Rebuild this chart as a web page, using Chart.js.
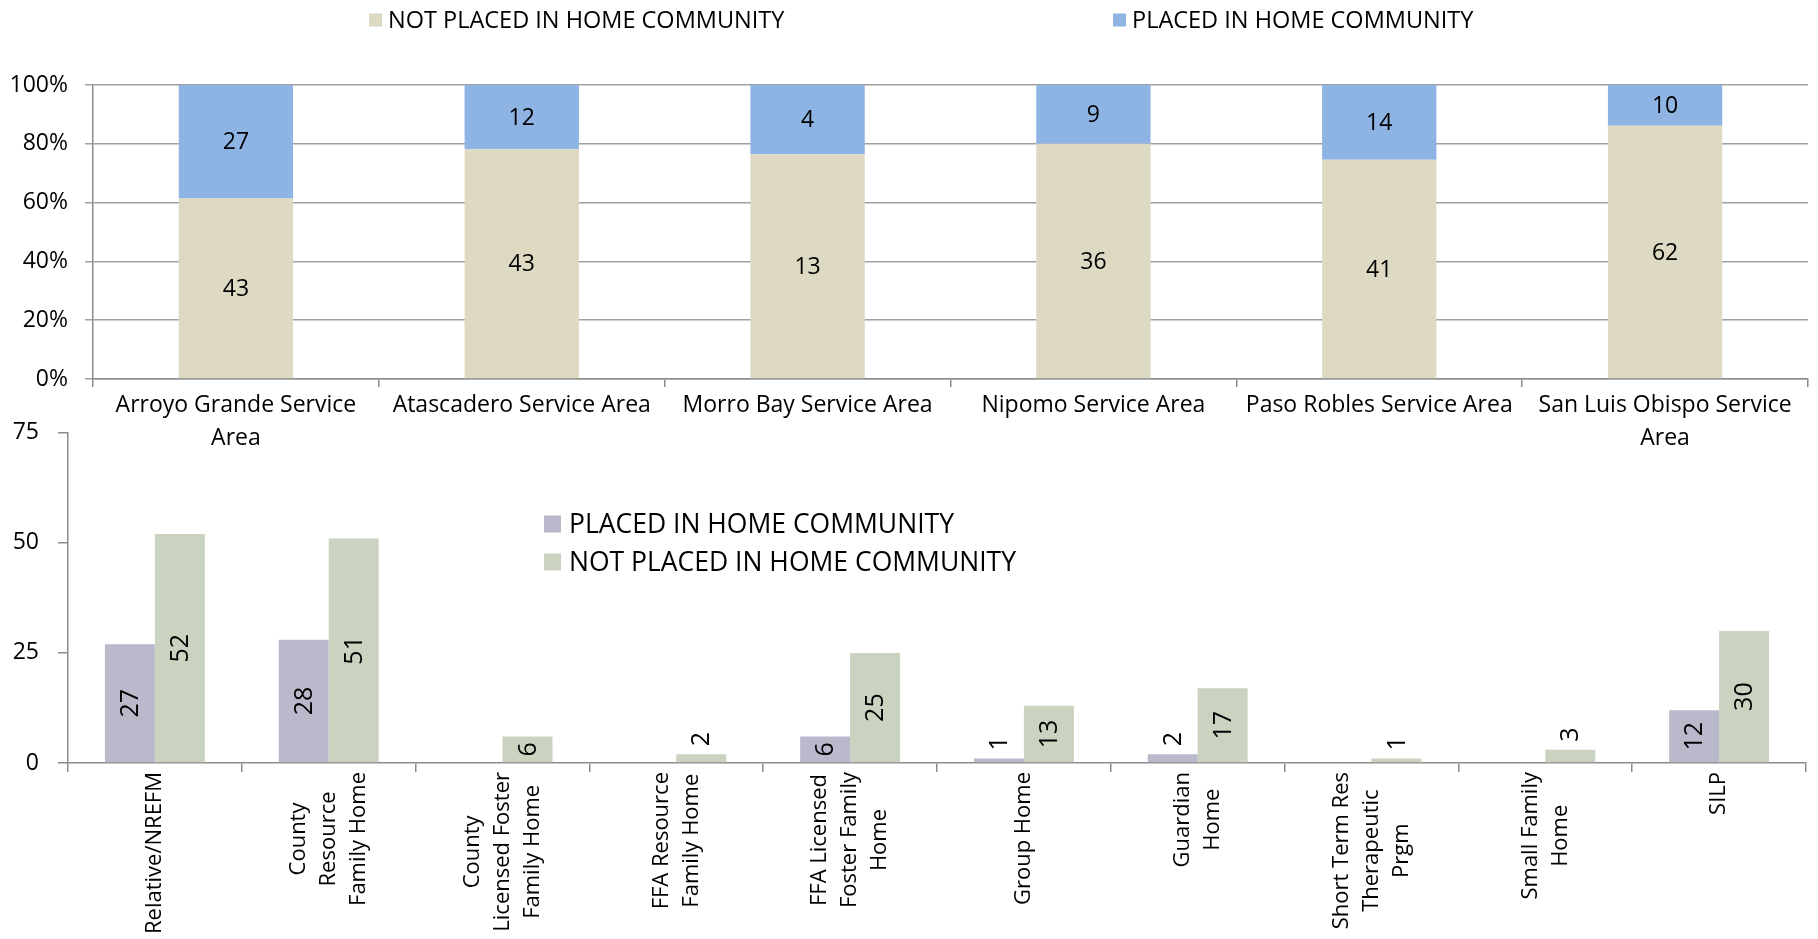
<!DOCTYPE html>
<html><head><meta charset="utf-8">
<script src="https://cdn.jsdelivr.net/npm/chart.js@4.4.1/dist/chart.umd.min.js"></script>
<style>
html,body{margin:0;padding:0;background:#fff;}
#wrap{position:relative;width:1818px;height:939px;overflow:hidden;background:#fff;}
canvas{position:absolute;left:0;}
#c1{top:0;}
#c2{top:400px;}
</style></head><body>
<div id="wrap"><canvas id="c1" width="1818" height="460"></canvas><canvas id="c2" width="1818" height="539"></canvas></div>
<script>
// ---- Top chart data ----
const areaLabels = [['Arroyo Grande Service','Area'],['Atascadero Service Area'],['Morro Bay Service Area'],['Nipomo Service Area'],['Paso Robles Service Area'],['San Luis Obispo Service','Area']];
const areaNotPlaced = [43,43,13,36,41,62];
const areaPlaced = [27,12,4,9,14,10];
const pctTicks = [0,20,40,60,80,100];
const topSeriesNames = ['NOT PLACED IN HOME COMMUNITY','PLACED IN HOME COMMUNITY'];

// ---- Bottom chart data ----
const placementTypes = [['Relative/NREFM'],['County','Resource','Family Home'],['County','Licensed Foster','Family Home'],['FFA Resource','Family Home'],['FFA Licensed','Foster Family','Home'],['Group Home'],['Guardian','Home'],['Short Term Res','Therapeutic','Prgm'],['Small Family','Home'],['SILP']];
const typePlaced = [27,28,0,0,6,1,2,0,0,12];
const typeNotPlaced = [52,51,6,2,25,13,17,1,3,30];
const countTicks = [0,25,50,75];
const bottomSeriesNames = ['PLACED IN HOME COMMUNITY','NOT PLACED IN HOME COMMUNITY'];

const FAMILY = "'Open Sans', 'Noto Sans', sans-serif";
Chart.defaults.font.family = FAMILY;
Chart.defaults.color = '#000';

const AXIS = '#8c8c8c';
const GRID = '#a0a0a0';

const legendDraw = {
  id: 'legendDraw',
  afterDraw(chart, args, opts) {
    const ctx = chart.ctx;
    ctx.save();
    ctx.font = opts.fontSize + 'px ' + FAMILY;
    ctx.textBaseline = 'middle';
    ctx.textAlign = 'left';
    opts.items.forEach(it => {
      const ds = chart.data.datasets[it.dataset];
      ctx.fillStyle = ds.backgroundColor;
      ctx.fillRect(it.x, it.y - opts.box / 2, opts.box, opts.box);
      ctx.fillStyle = '#000';
      ctx.fillText(ds.label, it.x + opts.box + opts.gap, it.y + 1);
    });
    ctx.restore();
  }
};

const stackLabels = {
  id: 'stackLabels',
  afterDatasetsDraw(chart, args, opts) {
    const ctx = chart.ctx;
    ctx.save();
    ctx.font = opts.fontSize + 'px ' + FAMILY;
    ctx.textAlign = 'center';
    ctx.textBaseline = 'middle';
    ctx.fillStyle = '#000';
    chart.data.datasets.forEach((ds, di) => {
      chart.getDatasetMeta(di).data.forEach((el, i) => {
        const v = ds.counts[i];
        if (!v) return;
        ctx.fillText(String(v), el.x, (el.y + el.base) / 2 + 1);
      });
    });
    ctx.restore();
  }
};

const rotLabels = {
  id: 'rotLabels',
  afterDatasetsDraw(chart, args, opts) {
    const ctx = chart.ctx;
    ctx.save();
    ctx.font = opts.fontSize + 'px ' + FAMILY;
    ctx.textAlign = 'center';
    ctx.textBaseline = 'middle';
    ctx.fillStyle = '#000';
    chart.data.datasets.forEach((ds, di) => {
      chart.getDatasetMeta(di).data.forEach((el, i) => {
        const v = ds.data[i];
        if (!v) return;
        const t = String(v);
        const w = ctx.measureText(t).width;
        const h = el.base - el.y;
        let cy;
        if (w + 10 <= h) cy = (el.y + el.base) / 2;
        else cy = el.y - 8 - w / 2;
        ctx.save();
        ctx.translate(el.x + 1, cy);
        ctx.rotate(-Math.PI / 2);
        ctx.fillText(t, 0, 0);
        ctx.restore();
      });
    });
    ctx.restore();
  }
};

const catLabels = {
  id: 'catLabels',
  afterDraw(chart, args, opts) {
    const ctx = chart.ctx;
    const xs = chart.scales.x;
    ctx.save();
    ctx.font = opts.fontSize + 'px ' + FAMILY;
    ctx.textAlign = 'center';
    ctx.textBaseline = 'middle';
    ctx.fillStyle = '#000';
    const top = chart.chartArea.bottom + opts.offset;
    chart.data.labels.forEach((lines, i) => {
      const x = xs.getPixelForValue(i);
      const maxW = Math.max(...lines.map(l => ctx.measureText(l).width));
      const n = lines.length;
      lines.forEach((l, j) => {
        ctx.save();
        ctx.translate(x + (j - (n - 1) / 2) * opts.lineSpacing, top + maxW / 2);
        ctx.rotate(-Math.PI / 2);
        ctx.fillText(l, 0, 0);
        ctx.restore();
      });
    });
    ctx.restore();
  }
};

// ---- Top chart ----
new Chart(document.getElementById('c1'), {
  type: 'bar',
  data: {
    labels: areaLabels,
    datasets: [
      { label: topSeriesNames[0], data: areaNotPlaced.map((v, i) => v / (v + areaPlaced[i]) * 100), counts: areaNotPlaced,
        backgroundColor: '#DDD9C3', barPercentage: 1, categoryPercentage: 0.4 },
      { label: topSeriesNames[1], data: areaPlaced.map((v, i) => v / (v + areaNotPlaced[i]) * 100), counts: areaPlaced,
        backgroundColor: '#8EB4E3', barPercentage: 1, categoryPercentage: 0.4 }
    ]
  },
  options: {
    responsive: false, animation: false,
    layout: { padding: { top: 85, left: 0, right: 10, bottom: 0 } },
    plugins: {
      legend: { display: false }, tooltip: { enabled: false },
      legendDraw: { fontSize: 23.5, box: 13, gap: 6, items: [{ dataset: 0, x: 369, y: 20 }, { dataset: 1, x: 1113, y: 20 }] },
      stackLabels: { fontSize: 23 }
    },
    scales: {
      x: {
        stacked: true,
        afterFit: s => { s.height = 81; },
        grid: { display: true, drawOnChartArea: false, drawTicks: true, tickLength: 8, color: AXIS, lineWidth: 1.5, offset: true },
        border: { display: true, color: AXIS, width: 1.5 },
        ticks: { font: { size: 23, lineHeight: 1.43 }, color: '#000', padding: 2, maxRotation: 0, minRotation: 0, autoSkip: false }
      },
      y: {
        stacked: true, min: 0, max: 100,
        afterFit: s => { s.width = 93; },
        afterBuildTicks: s => { s.ticks = pctTicks.map(v => ({ value: v })); },
        grid: { color: GRID, lineWidth: 1.5, tickLength: 8 },
        border: { display: true, color: AXIS, width: 1.5 },
        ticks: { callback: v => v + '%', font: { size: 23 }, padding: 17, color: '#000' }
      }
    }
  },
  plugins: [legendDraw, stackLabels]
});

// ---- Bottom chart ----
new Chart(document.getElementById('c2'), {
  type: 'bar',
  data: {
    labels: placementTypes,
    datasets: [
      { label: bottomSeriesNames[0], data: typePlaced, backgroundColor: '#BAB8CB', barPercentage: 1, categoryPercentage: 0.575 },
      { label: bottomSeriesNames[1], data: typeNotPlaced, backgroundColor: '#C9D3BF', barPercentage: 1, categoryPercentage: 0.575 }
    ]
  },
  options: {
    responsive: false, animation: false,
    layout: { padding: { top: 26, left: 0, right: 12, bottom: 0 } },
    plugins: {
      legend: { display: false }, tooltip: { enabled: false },
      legendDraw: { fontSize: 26.5, box: 17, gap: 8, items: [{ dataset: 0, x: 544, y: 124 }, { dataset: 1, x: 544, y: 162 }] },
      rotLabels: { fontSize: 25 },
      catLabels: { fontSize: 22, lineSpacing: 30, offset: 9 }
    },
    scales: {
      x: {
        afterFit: s => { s.height = 176; },
        grid: { display: true, drawOnChartArea: false, drawTicks: true, tickLength: 9, color: AXIS, lineWidth: 1.5, offset: true },
        border: { display: true, color: AXIS, width: 1.5 },
        ticks: { display: false, autoSkip: false }
      },
      y: {
        min: 0, max: 75,
        afterFit: s => { s.width = 68; },
        afterBuildTicks: s => { s.ticks = countTicks.map(v => ({ value: v })); },
        grid: { drawOnChartArea: false, color: AXIS, lineWidth: 1.5, tickLength: 10 },
        border: { display: true, color: AXIS, width: 1.5 },
        ticks: { font: { size: 23 }, padding: 19, color: '#000' }
      }
    }
  },
  plugins: [legendDraw, rotLabels, catLabels]
});
</script>
</body></html>
